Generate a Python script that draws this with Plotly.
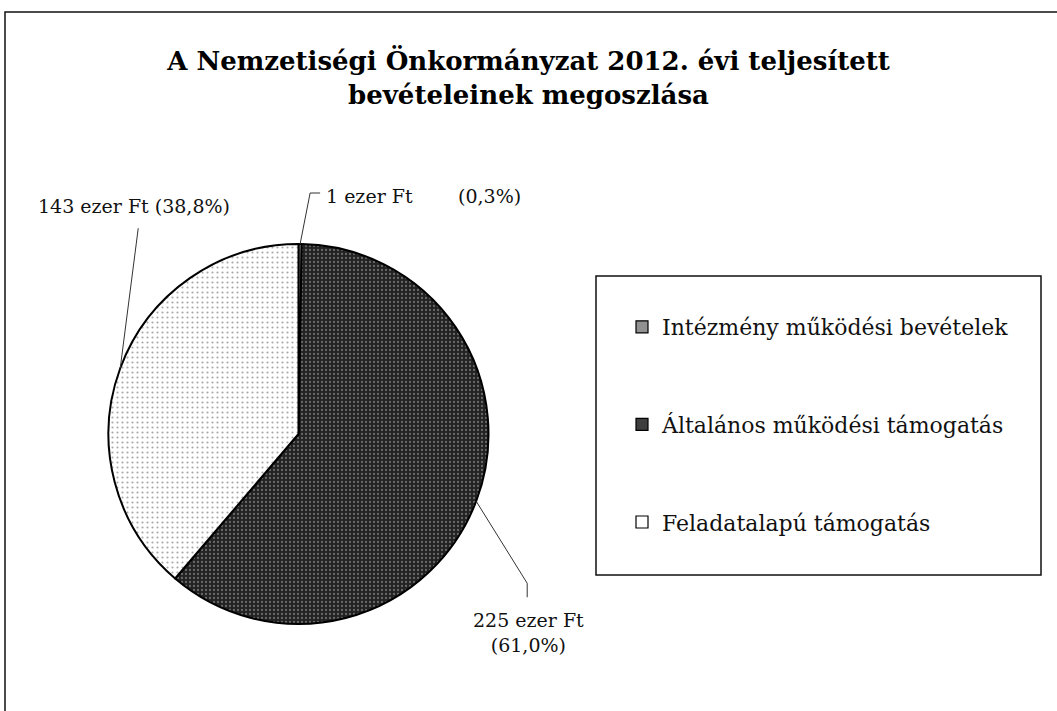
import math
import plotly.graph_objects as go

# ---- data ----
categories = ["Intézmény működési bevételek", "Általános működési támogatás", "Feladatalapú támogatás"]
values = [1, 225, 143]
value_labels = ["1 ezer Ft", "225 ezer Ft", "143 ezer Ft"]
pct_labels = ["(0,3%)", "(61,0%)", "(38,8%)"]
title_text = "A Nemzetiségi Önkormányzat 2012. évi teljesített<br>bevételeinek megoszlása"

# ---- styles ----
W, H = 1057, 711
bg_colors = ["#b4b4b4", "#222222", "#ffffff"]
fg_colors = ["#5a5a5a", "#6a6a6a", "#a8a8a8"]
pat_size = [4, 4, 5]
pat_sol = [0.35, 0.25, 0.15]
FONT = "DejaVu Serif"

cx, cy, R = 298.5, 434, 190  # pie centre/radius in px


def px(x):
    return x / W


def py(y):
    return 1 - y / H


fig = go.Figure()
fig.add_trace(go.Pie(
    labels=categories, values=values, sort=False, direction="clockwise", rotation=0,
    textinfo="none", hoverinfo="label+value+percent", showlegend=False,
    marker=dict(colors=bg_colors, line=dict(color="#000000", width=2),
                pattern=dict(shape=".", bgcolor=bg_colors, fgcolor=fg_colors,
                             size=pat_size, solidity=pat_sol, fillmode="replace")),
    domain=dict(x=[px(cx - R), px(cx + R)], y=[py(cy + R), py(cy - R)]),
))

# legend entries (dummy bar traces with matching swatches)
for i, c in enumerate(categories):
    fig.add_trace(go.Bar(
        x=[None], y=[None], name=c, legendgroup=c, showlegend=True,
        marker=dict(color=bg_colors[i], line=dict(color="#000000", width=1.2),
                    pattern=dict(shape="." if i < 2 else "", bgcolor=bg_colors[i], fgcolor=fg_colors[i],
                                 size=2, solidity=0.4, fillmode="replace")),
    ))

# anchor points on the pie edge at each slice's mid-angle
total = sum(values)
cum = 0
anchors = []
for v in values:
    mid = (cum + v / 2) / total * 2 * math.pi
    cum += v
    anchors.append((cx + R * math.sin(mid), cy - R * math.cos(mid)))

shapes = []
annotations = []
lf = dict(family=FONT, size=19, color="#111111")
line_style = dict(color="#333333", width=1)

# slice 0 label (tiny slice)
ax0, ay0 = anchors[0]
shapes.append(dict(type="path", xref="paper", yref="paper", line=line_style,
                   path=f"M {px(ax0)} {py(ay0)} L {px(ax0 + 10)} {py(ay0 - 51)} L {px(ax0 + 20)} {py(ay0 - 51)}"))
annotations.append(dict(x=px(ax0 + 24), y=py(ay0 - 48), xref="paper", yref="paper", xanchor="left",
                        yanchor="middle", text=value_labels[0], showarrow=False, font=lf))
annotations.append(dict(x=px(ax0 + 156), y=py(ay0 - 48), xref="paper", yref="paper", xanchor="left",
                        yanchor="middle", text=pct_labels[0], showarrow=False, font=lf))

# slice 1 label
ax1, ay1 = anchors[1]
shapes.append(dict(type="path", xref="paper", yref="paper", line=line_style,
                   path=f"M {px(ax1)} {py(ay1)} L {px(ax1 + 51)} {py(ay1 + 82)} L {px(ax1 + 51)} {py(ay1 + 96)}"))
annotations.append(dict(x=px(ax1 + 52), y=py(ay1 + 131), xref="paper", yref="paper", xanchor="center",
                        yanchor="middle", text=value_labels[1] + "<br>" + pct_labels[1],
                        showarrow=False, font=lf))

# slice 2 label
ax2, ay2 = anchors[2]
shapes.append(dict(type="path", xref="paper", yref="paper", line=line_style,
                   path=f"M {px(ax2)} {py(ay2)} L {px(ax2 + 18)} {py(ay2 - 140)}"))
annotations.append(dict(x=px(ax2 + 14), y=py(ay2 - 162), xref="paper", yref="paper", xanchor="center",
                        yanchor="middle", text=value_labels[2] + " " + pct_labels[2],
                        showarrow=False, font=lf))

# chart frame and legend box
shapes.append(dict(type="rect", xref="paper", yref="paper", x0=px(5), y0=py(730), x1=px(1070), y1=py(12),
                   line=dict(color="#111111", width=1.5), layer="below"))
shapes.append(dict(type="rect", xref="paper", yref="paper", x0=px(596), y0=py(575), x1=px(1041), y1=py(276),
                   line=dict(color="#111111", width=1.5), layer="below"))

fig.update_layout(
    width=W, height=H, margin=dict(l=0, r=0, t=0, b=0),
    paper_bgcolor="white", plot_bgcolor="white",
    title=dict(text=title_text, x=0.5, xanchor="center", y=py(70), yanchor="top",
               font=dict(family=FONT, size=26, color="#000000", weight="bold")),
    xaxis=dict(visible=False, domain=[0.99, 1]), yaxis=dict(visible=False, domain=[0.99, 1]),
    legend=dict(x=px(622), y=py(306), xanchor="left", yanchor="top", traceorder="grouped",
                tracegroupgap=66, font=dict(family=FONT, size=22, color="#111111"),
                bgcolor="rgba(0,0,0,0)", itemclick=False),
    shapes=shapes, annotations=annotations,
)

fig.write_html("out.html", config={"displayModeBar": False},
               post_script="document.body.style.margin='0';")
